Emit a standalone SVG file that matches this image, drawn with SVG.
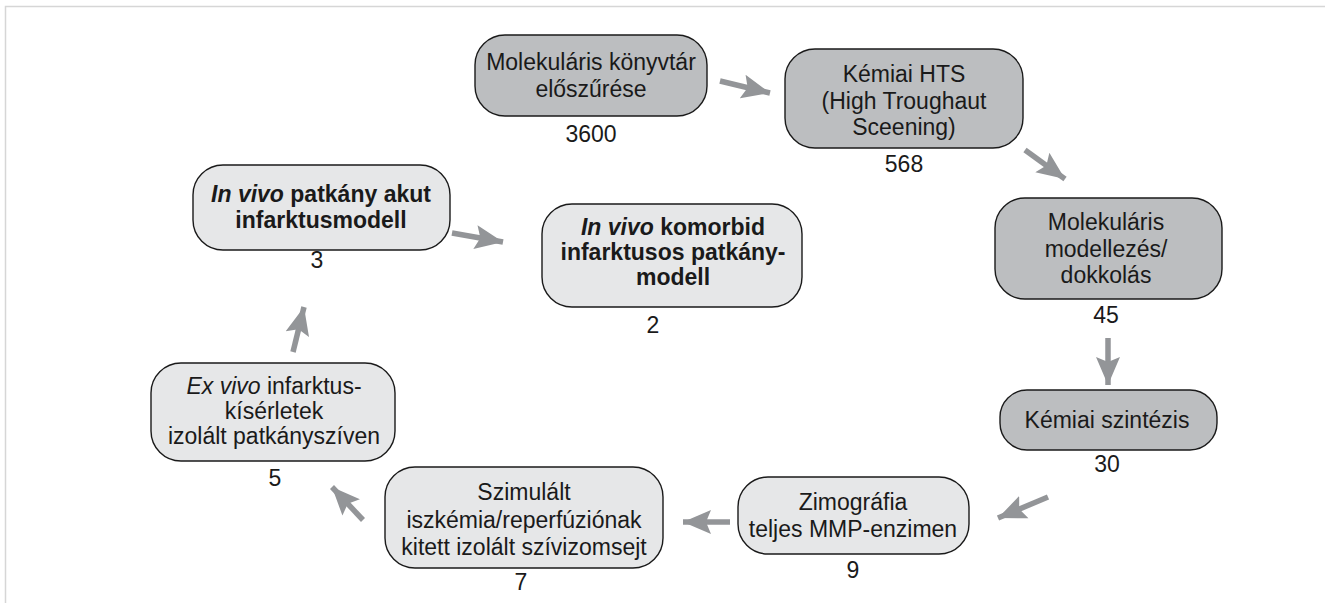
<svg xmlns="http://www.w3.org/2000/svg" width="1325" height="603" viewBox="0 0 1325 603">
<style>
  .frame { fill: none; stroke: #d6d6d6; stroke-width: 1.5; }
  .dark { fill: #bcbec0; stroke: #1a1a1a; stroke-width: 1.4; }
  .light { fill: #e6e7e8; stroke: #1a1a1a; stroke-width: 1.4; }
  text { font-family: "Liberation Sans", Arial, sans-serif; font-size: 23px; fill: #1a1a1a; text-anchor: middle; }
  .b { font-weight: bold; }
  .i { font-style: italic; }
  .arrow { stroke: #939598; stroke-width: 5.5; fill: none; marker-end: url(#ah); }
</style>
<defs>
  <marker id="ah" markerUnits="userSpaceOnUse" markerWidth="30" markerHeight="26" refX="28" refY="13" orient="auto">
    <path d="M0,1 L28,13 L0,25 L5,13 Z" fill="#939598"/>
  </marker>
</defs>
<rect width="1325" height="603" fill="#ffffff"/>
<path class="frame" d="M5.5,603 V6.5 H1325"/>

<g id="n1">
  <rect class="dark" x="475" y="35" width="232" height="81" rx="30"/>
  <text x="591" y="70">Molekuláris könyvtár</text>
  <text x="591" y="97">előszűrése</text>
  <text x="591" y="142">3600</text>
</g>
<g id="n2">
  <rect class="dark" x="785" y="49" width="238" height="99" rx="30"/>
  <text x="904" y="82">Kémiai HTS</text>
  <text x="904" y="108.5">(High Troughaut</text>
  <text x="904" y="135">Sceening)</text>
  <text x="904" y="172">568</text>
</g>
<g id="n3">
  <rect class="dark" x="995" y="198" width="227" height="101" rx="30"/>
  <text x="1106" y="230">Molekuláris</text>
  <text x="1106" y="256.5">modellezés/</text>
  <text x="1106" y="283">dokkolás</text>
  <text x="1106" y="323">45</text>
</g>
<g id="n4">
  <rect class="dark" x="1000" y="390" width="217" height="60" rx="27"/>
  <text x="1107" y="428">Kémiai szintézis</text>
  <text x="1107" y="472">30</text>
</g>
<g id="n5">
  <rect class="light" x="738" y="477" width="231" height="77" rx="30"/>
  <text x="853" y="510">Zimográfia</text>
  <text x="853" y="537">teljes MMP-enzimen</text>
  <text x="853" y="578">9</text>
</g>
<g id="n6">
  <rect class="light" x="385" y="467" width="278" height="101" rx="30"/>
  <text x="524" y="500">Szimulált</text>
  <text x="524" y="528">iszkémia/reperfúziónak</text>
  <text x="524" y="555">kitett izolált szívizomsejt</text>
  <text x="521" y="590">7</text>
</g>
<g id="n7">
  <rect class="light" x="151" y="363" width="244" height="98" rx="30"/>
  <text x="274" y="394"><tspan class="i">Ex vivo</tspan> infarktus-</text>
  <text x="274" y="419">kísérletek</text>
  <text x="274" y="444">izolált patkányszíven</text>
  <text x="275" y="486">5</text>
</g>
<g id="n8">
  <rect class="light" x="193" y="165" width="257" height="85" rx="30"/>
  <text class="b" x="321" y="202"><tspan class="i">In vivo</tspan> patkány akut</text>
  <text class="b" x="321" y="228">infarktusmodell</text>
  <text x="317" y="268">3</text>
</g>
<g id="n9">
  <rect class="light" x="542" y="204" width="260" height="103" rx="30"/>
  <text class="b" x="673" y="235"><tspan class="i">In vivo</tspan> komorbid</text>
  <text class="b" x="673" y="260">infarktusos patkány-</text>
  <text class="b" x="673" y="285">modell</text>
  <text x="653" y="333">2</text>
</g>

<g id="connectors">
  <line class="arrow" x1="720" y1="81" x2="770" y2="93"/>
  <line class="arrow" x1="1025" y1="150" x2="1065" y2="179"/>
  <line class="arrow" x1="1108" y1="338" x2="1108" y2="385"/>
  <line class="arrow" x1="1048" y1="497" x2="998" y2="518"/>
  <line class="arrow" x1="730" y1="522" x2="683" y2="522"/>
  <line class="arrow" x1="363" y1="520" x2="332" y2="487"/>
  <line class="arrow" x1="293" y1="352" x2="304" y2="307"/>
  <line class="arrow" x1="452" y1="233" x2="503" y2="242"/>
</g>
</svg>
